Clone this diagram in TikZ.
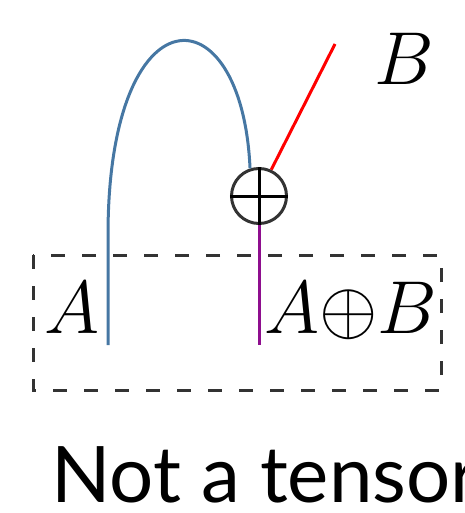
\RequirePackage{fix-cm}
\documentclass[tikz,border=0pt]{standalone}
\usepackage{fontspec}
\newfontfamily\latofont{Lato}
\usetikzlibrary{positioning, calc}
\definecolor{cblue}{HTML}{4677A3}
\definecolor{cpurple}{HTML}{8E0E8E}
\definecolor{cred}{HTML}{FF0000}
\definecolor{cdark}{HTML}{333333}
\tikzset{
  every picture/.style={line width=3pt},
  wire/.style={draw=#1, line width=3pt},
  wire/.default=cblue,
  gate/.style={circle, draw=cdark, line width=3pt, minimum size=55pt, inner sep=0pt},
  frame/.style={draw=cdark, line width=3pt, dash pattern=on 14pt off 17pt},
  mathlabel/.style={inner sep=0pt, font=\fontsize{75}{75}\selectfont},
  caption/.style={inner sep=0pt, font=\latofont\fontsize{78}{78}\selectfont},
}
\begin{document}
\begin{tikzpicture}[x=1pt, y=-1pt]
  \useasboundingbox (0,0) rectangle (464,513);
  % the gate
  \node[gate] (oplus) at (259,196) {};
  \draw[black, line width=3pt] (oplus.north) -- (oplus.south);
  \draw[black, line width=3pt] (oplus.west) -- (oplus.east);
  % wire ends
  \coordinate (Aend) at (108,345);
  \coordinate (Bend) at (335,44);
  \coordinate (ABend) at (259,345);
  \coordinate (Abend) at (108,235);
  % wires
  \draw[wire=cblue] (Aend) -- (Abend) .. controls (108,-12) and (242,-12) .. (oplus.108);
  \draw[wire=cred] (oplus.65) -- (Bend);
  \draw[wire=cpurple] (oplus.south) -- (ABend);
  % the region
  \draw[frame] (33,255) rectangle (441,390);
  % labels
  \node[mathlabel, anchor=base west] (Alabel) at (43,333) {$A$};
  \node[mathlabel, anchor=base west] (ABlabel) at (263,333) {$A{\oplus}B$};
  \node[mathlabel, anchor=base west] (Blabel) at (373,85) {$B$};
  \node[caption, anchor=base west] (note) at (50,502) {Not a tensor};
\end{tikzpicture}
\end{document}
